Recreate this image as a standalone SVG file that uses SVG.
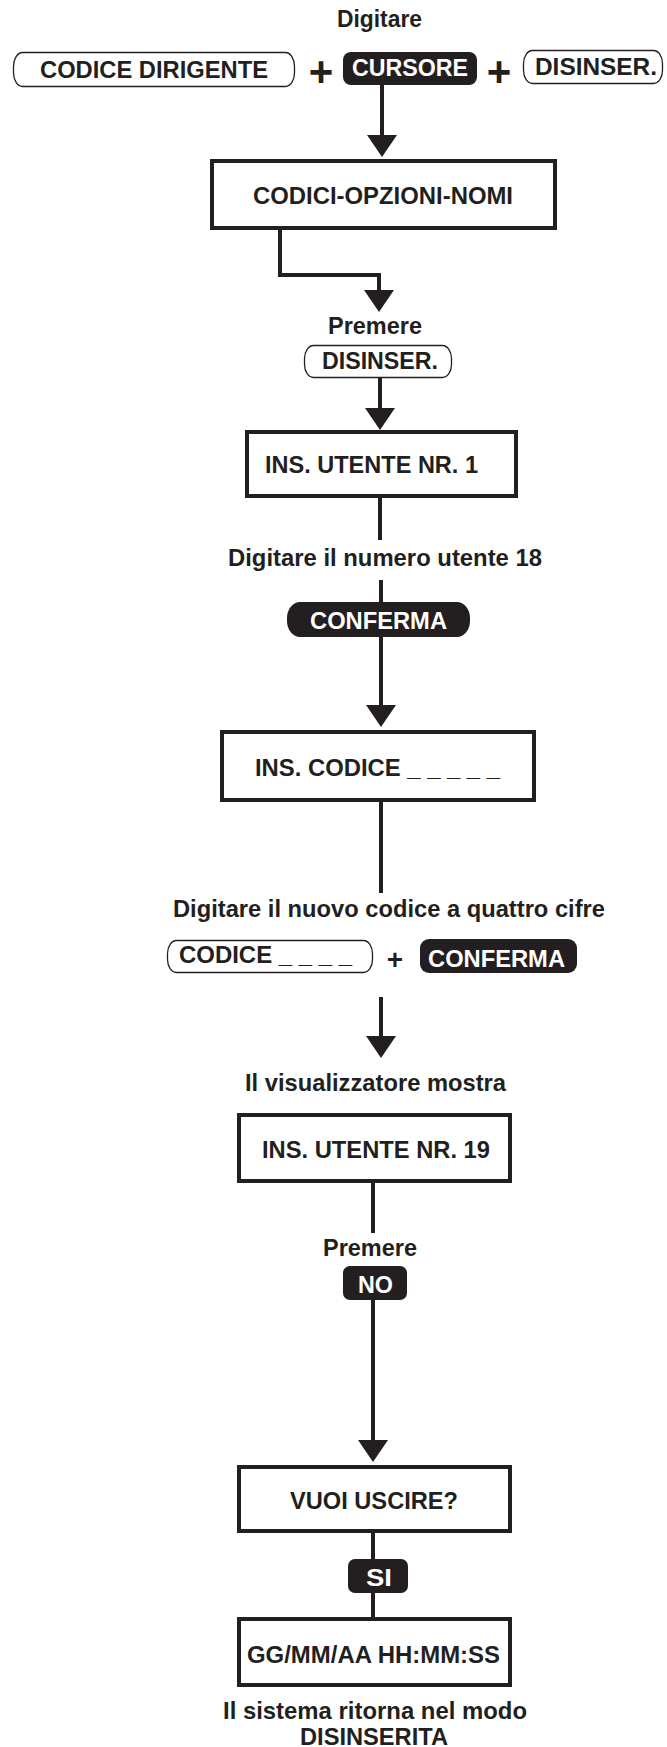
<svg xmlns="http://www.w3.org/2000/svg" width="667" height="1747" viewBox="0 0 667 1747">
<defs>
<style>
.t{font-family:"Liberation Sans",Arial,sans-serif;font-weight:bold;fill:#231f20;font-size:24px}
.w{font-family:"Liberation Sans",Arial,sans-serif;font-weight:bold;fill:#ffffff;font-size:24px}
.box{fill:#ffffff;stroke:#231f20;stroke-width:4}
.pill{fill:#ffffff;stroke:#231f20;stroke-width:1.3}
.key{fill:#231f20;stroke:none}
.ln{fill:none;stroke:#231f20;stroke-width:4}
</style>
<marker id="ah" markerUnits="userSpaceOnUse" viewBox="0 0 22 30" markerWidth="22" markerHeight="30" refX="0" refY="15" orient="auto">
<path d="M0,0 L22,15 L0,30 z" fill="#231f20"/>
</marker>
</defs>
<rect width="667" height="1747" fill="#ffffff"/>

<g id="connectors">
<line class="ln" x1="382" y1="85" x2="382" y2="135" marker-end="url(#ah)"/>
<polyline class="ln" points="280,230 280,275 379,275 379,290" marker-end="url(#ah)"/>
<line class="ln" x1="380" y1="378" x2="380" y2="408" marker-end="url(#ah)"/>
<line class="ln" x1="380" y1="498" x2="380" y2="540"/>
<line class="ln" x1="381" y1="580" x2="381" y2="603"/>
<line class="ln" x1="381" y1="636" x2="381" y2="705" marker-end="url(#ah)"/>
<line class="ln" x1="381" y1="802" x2="381" y2="893"/>
<line class="ln" x1="381" y1="997" x2="381" y2="1036" marker-end="url(#ah)"/>
<line class="ln" x1="373" y1="1183" x2="373" y2="1233"/>
<line class="ln" x1="373" y1="1299" x2="373" y2="1440" marker-end="url(#ah)"/>
<line class="ln" x1="373" y1="1533" x2="373" y2="1560"/>
<line class="ln" x1="373" y1="1592" x2="373" y2="1617"/>
</g>

<g id="title">
<text class="t" x="379.5" y="27" text-anchor="middle" textLength="85" lengthAdjust="spacingAndGlyphs">Digitare</text>
</g>

<g id="key-codice-dirigente">
<rect class="pill" x="13.5" y="52.5" width="281" height="34" rx="9" ry="14"/>
<text class="t" x="40" y="78" textLength="228" lengthAdjust="spacingAndGlyphs">CODICE DIRIGENTE</text>
</g>
<g id="plus1"><text class="t" x="321" y="86" text-anchor="middle" style="font-size:42px">+</text></g>
<g id="key-cursore">
<rect class="key" x="343" y="52" width="134" height="33" rx="8" ry="8"/>
<text class="w" x="352" y="76" textLength="116" lengthAdjust="spacingAndGlyphs">CURSORE</text>
</g>
<g id="plus2"><text class="t" x="499" y="86" text-anchor="middle" style="font-size:42px">+</text></g>
<g id="key-disinser-top">
<rect class="pill" x="523.5" y="50.5" width="139" height="33" rx="9" ry="13"/>
<text class="t" x="535" y="75" textLength="122" lengthAdjust="spacingAndGlyphs">DISINSER.</text>
</g>

<g id="box-codici">
<rect class="box" x="212" y="161" width="343" height="67"/>
<text class="t" x="253" y="204" textLength="260" lengthAdjust="spacingAndGlyphs">CODICI-OPZIONI-NOMI</text>
</g>

<g id="label-premere1">
<text class="t" x="375" y="334" text-anchor="middle" textLength="94" lengthAdjust="spacingAndGlyphs">Premere</text>
</g>
<g id="key-disinser">
<rect class="pill" x="304.5" y="345.5" width="147" height="32" rx="9" ry="13"/>
<text class="t" x="322" y="369" textLength="116" lengthAdjust="spacingAndGlyphs">DISINSER.</text>
</g>

<g id="box-utente1">
<rect class="box" x="247" y="432" width="269" height="64"/>
<text class="t" x="265" y="473" textLength="213" lengthAdjust="spacingAndGlyphs">INS. UTENTE NR. 1</text>
</g>

<g id="label-numero">
<text class="t" x="228" y="566" textLength="314" lengthAdjust="spacingAndGlyphs">Digitare il numero utente 18</text>
</g>
<g id="key-conferma1">
<rect class="key" x="287" y="602" width="183" height="35" rx="13" ry="16"/>
<text class="w" x="310" y="629" textLength="137" lengthAdjust="spacingAndGlyphs">CONFERMA</text>
</g>

<g id="box-codice">
<rect class="box" x="222" y="732" width="312" height="68"/>
<text class="t" x="255" y="776" textLength="245" lengthAdjust="spacingAndGlyphs">INS. CODICE _ _ _ _ _</text>
</g>

<g id="label-nuovo">
<text class="t" x="173" y="917" textLength="432" lengthAdjust="spacingAndGlyphs">Digitare il nuovo codice a quattro cifre</text>
</g>
<g id="key-codice">
<rect class="pill" x="167.5" y="940.5" width="205" height="32" rx="9" ry="13"/>
<text class="t" x="179" y="963" textLength="173" lengthAdjust="spacingAndGlyphs">CODICE _ _ _ _</text>
</g>
<g id="plus3"><text class="t" x="395" y="969" text-anchor="middle" style="font-size:28px">+</text></g>
<g id="key-conferma2">
<rect class="key" x="420" y="939" width="157" height="34" rx="9" ry="9"/>
<text class="w" x="428" y="967" textLength="137" lengthAdjust="spacingAndGlyphs">CONFERMA</text>
</g>

<g id="label-visualizzatore">
<text class="t" x="245" y="1091" textLength="261" lengthAdjust="spacingAndGlyphs">Il visualizzatore mostra</text>
</g>

<g id="box-utente19">
<rect class="box" x="239" y="1115" width="271" height="66"/>
<text class="t" x="262" y="1158" textLength="228" lengthAdjust="spacingAndGlyphs">INS. UTENTE NR. 19</text>
</g>

<g id="label-premere2">
<text class="t" x="370" y="1256" text-anchor="middle" textLength="94" lengthAdjust="spacingAndGlyphs">Premere</text>
</g>
<g id="key-no">
<rect class="key" x="343" y="1266" width="64" height="34" rx="7" ry="7"/>
<text class="w" x="358" y="1293" textLength="35" lengthAdjust="spacingAndGlyphs">NO</text>
</g>

<g id="box-uscire">
<rect class="box" x="239" y="1467" width="271" height="64"/>
<text class="t" x="290" y="1509" textLength="168" lengthAdjust="spacingAndGlyphs">VUOI USCIRE?</text>
</g>

<g id="key-si">
<rect class="key" x="348" y="1559" width="60" height="34" rx="7" ry="7"/>
<text class="w" x="366" y="1586" textLength="26" lengthAdjust="spacingAndGlyphs">SI</text>
</g>

<g id="box-data">
<rect class="box" x="239" y="1619" width="271" height="66"/>
<text class="t" x="247" y="1663" textLength="253" lengthAdjust="spacingAndGlyphs">GG/MM/AA HH:MM:SS</text>
</g>

<g id="label-finale">
<text class="t" x="375" y="1719" text-anchor="middle" textLength="304" lengthAdjust="spacingAndGlyphs">Il sistema ritorna nel modo</text>
<text class="t" x="374" y="1745" text-anchor="middle" textLength="148" lengthAdjust="spacingAndGlyphs">DISINSERITA</text>
</g>
</svg>
